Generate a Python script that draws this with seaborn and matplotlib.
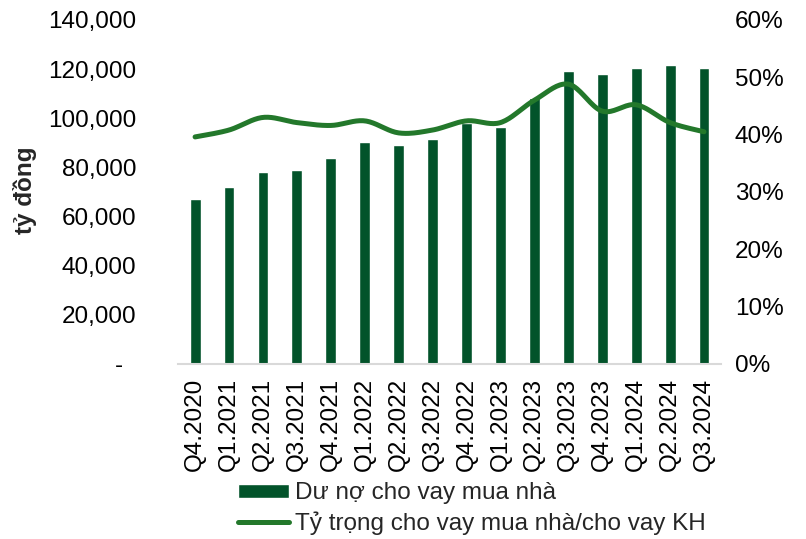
import numpy as np
import pandas as pd
import matplotlib
matplotlib.use("Agg")
import matplotlib.pyplot as plt
import seaborn as sns
from matplotlib.ticker import FuncFormatter, MultipleLocator

# ===================== DATA =====================
quarters = ["Q4.2020", "Q1.2021", "Q2.2021", "Q3.2021", "Q4.2021", "Q1.2022",
            "Q2.2022", "Q3.2022", "Q4.2022", "Q1.2023", "Q2.2023", "Q3.2023",
            "Q4.2023", "Q1.2024", "Q2.2024", "Q3.2024"]
loan_balance = [67200, 72000, 78300, 78800, 83700, 90200, 89000, 91700,
                98000, 96300, 108100, 119400, 117900, 120600, 121700, 120500]
share_pct = [39.6, 40.8, 43.0, 42.1, 41.6, 42.4, 40.3, 40.8,
             42.4, 42.1, 46.0, 48.8, 44.1, 45.2, 42.1, 40.5]

bar_label = "Dư nợ cho vay mua nhà"
line_label = "Tỷ trọng cho vay mua nhà/cho vay KH"
y_label = "tỷ đồng"

BAR_COLOR = "#02532A"
LINE_COLOR = "#23782B"


def smooth(xs, ys, n=20):
    # catmull-rom spline through the points (like Excel's smoothed line)
    xs = np.asarray(xs, float)
    ys = np.asarray(ys, float)
    px = np.concatenate([[xs[0]], xs, [xs[-1]]])
    py = np.concatenate([[ys[0]], ys, [ys[-1]]])
    out_x, out_y = [], []
    t = np.linspace(0, 1, n, endpoint=False)
    for i in range(1, len(px) - 2):
        for arr, out in ((px, out_x), (py, out_y)):
            p0, p1, p2, p3 = arr[i - 1], arr[i], arr[i + 1], arr[i + 2]
            out.extend(0.5 * (2 * p1 + (-p0 + p2) * t
                              + (2 * p0 - 5 * p1 + 4 * p2 - p3) * t ** 2
                              + (-p0 + 3 * p1 - 3 * p2 + p3) * t ** 3))
    out_x.append(xs[-1])
    out_y.append(ys[-1])
    return np.array(out_x), np.array(out_y)


# ===================== PLOT =====================
sns.set_theme(style="white")
plt.rcParams["font.family"] = ["Liberation Sans", "DejaVu Sans"]
FS = 17.5

df = pd.DataFrame({"quarter": quarters, "balance": loan_balance, "share": share_pct})
df["pos"] = np.arange(len(df))

fig = plt.figure(figsize=(8.06, 5.39), dpi=100)
ax = fig.add_axes([0.221, 0.3247, 0.6735, 0.6383])

sns.barplot(data=df, x="quarter", y="balance", color=BAR_COLOR, width=0.32,
            saturation=1, ax=ax, label=bar_label)

ax2 = ax.twinx()
sx, sy = smooth(df["pos"], df["share"])
smooth_df = pd.DataFrame({"x": sx, "y": sy})
sns.lineplot(data=smooth_df, x="x", y="y", color=LINE_COLOR, linewidth=3.6,
             ax=ax2, label=line_label, sort=False)
for a in (ax, ax2):
    if a.get_legend():
        a.get_legend().remove()

ax.set_xlim(-0.5, len(df) - 0.5)
ax.set_ylim(0, 140000)
ax.yaxis.set_major_locator(MultipleLocator(20000))
ax.yaxis.set_major_formatter(FuncFormatter(lambda v, p: "-  " if v == 0 else f"{v:,.0f}"))
ax2.set_ylim(0, 60)
ax2.yaxis.set_major_locator(MultipleLocator(10))
ax2.yaxis.set_major_formatter(FuncFormatter(lambda v, p: f"{v:.0f}%"))

ax.set_xlabel("")
ax.set_ylabel("")
ax2.set_ylabel("")
ax2.set_xlabel("")

for a in (ax, ax2):
    for s in a.spines.values():
        s.set_visible(False)
ax.spines["bottom"].set_visible(True)
ax.spines["bottom"].set_color("#D9D9D9")
ax.spines["bottom"].set_linewidth(1.5)

ax.tick_params(axis="y", length=0, pad=30, labelsize=FS, labelcolor="black")
ax.tick_params(axis="x", length=0, pad=10, labelsize=FS, labelcolor="black", rotation=90)
ax2.tick_params(axis="y", length=0, pad=10, labelsize=FS, labelcolor="black")
ax.grid(False)
ax2.grid(False)

fig.text(25 / 806, 1 - 190 / 539, y_label, rotation=90, fontsize=FS,
         fontweight="bold", ha="center", va="center")

h1, l1 = ax.get_legend_handles_labels()
h2, l2 = ax2.get_legend_handles_labels()
fig.legend(h1 + h2, l1 + l2, loc="upper left", bbox_to_anchor=(0.295, 0.105),
           frameon=False, fontsize=FS, handlelength=2.1, handleheight=0.5,
           handletextpad=0.25, labelspacing=0.3, borderpad=0, borderaxespad=0)

fig.savefig("out.png", dpi=100)
